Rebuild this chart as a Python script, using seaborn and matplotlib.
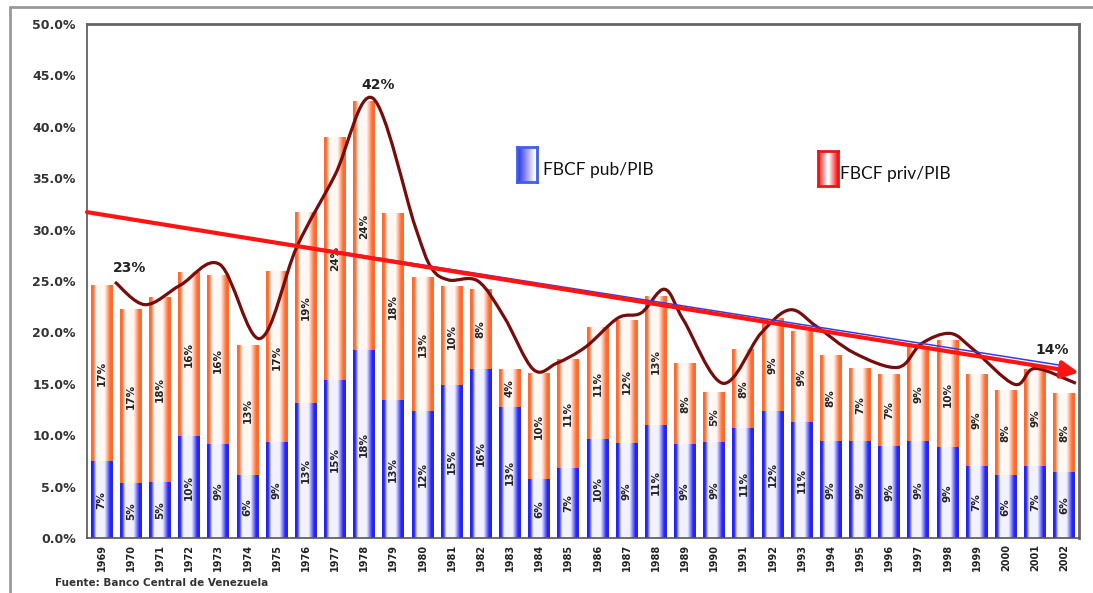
import numpy as np
import pandas as pd
import matplotlib
matplotlib.use("Agg")
import matplotlib.pyplot as plt
import seaborn as sns
from matplotlib.path import Path
from matplotlib.patches import PathPatch
from matplotlib.lines import Line2D
from matplotlib.colors import to_rgb

years = list(range(1969, 2003))
pub = [7.4, 5.3, 5.4, 9.9, 9.1, 6.1, 9.3, 13.1, 15.3, 18.2, 13.4, 12.3, 14.8, 16.4, 12.7, 5.7, 6.8,
       9.6, 9.2, 10.9, 9.1, 9.3, 10.7, 12.3, 11.2, 9.4, 9.4, 8.9, 9.4, 8.8, 7.0, 6.1, 7.0, 6.4]
priv = [17.2, 16.9, 18.0, 15.9, 16.4, 12.6, 16.6, 18.6, 23.7, 24.3, 18.2, 13.0, 9.7, 7.8, 3.7, 10.3, 10.6,
        10.9, 12.0, 12.6, 7.9, 4.9, 7.6, 9.1, 8.9, 8.4, 7.1, 7.0, 9.2, 10.4, 8.9, 8.2, 9.4, 7.7]

# smoothed total curve (knots, in fractional years)
curve_year = [1969.46, 1970.49, 1971.7, 1973.06, 1974.43, 1975.69, 1977.0, 1978.29, 1979.75, 1980.3,
              1980.9, 1981.9, 1982.8, 1983.8, 1984.6, 1985.6, 1986.7, 1987.5, 1988.3, 1988.95,
              1990.3, 1991.6, 1992.6, 1993.5, 1994.8, 1996.3, 1997.1, 1998.1, 1998.9, 2000.3, 2001.0,
              2002.4]
curve_val = [24.9, 22.7, 24.6, 26.6, 19.4, 28.3, 35.3, 42.8, 30.3, 26.3,
             25.1, 25.0, 21.5, 16.4, 17.0, 18.6, 21.4, 21.9, 24.2, 21.2,
             15.05, 19.9, 22.2, 20.6, 18.0, 16.6, 18.9, 19.9, 18.3, 14.95, 16.5,
             15.05]

trend_year = [1968.5, 2002.5]
trend_red = [31.7, 16.1]
trend_blue_year = [1968.5, 2002.0]
trend_blue = [31.7, 16.75]

callouts = [("23%", 1969.97, 26.3), ("42%", 1978.48, 44.1), ("14%", 2001.6, 18.3)]

df = pd.DataFrame({"year": [str(y) for y in years], "pub": pub, "priv": priv})
df["total"] = df["pub"] + df["priv"]

BLUE = "#2424F5"
ORANGE = "#FF6A2E"

sns.set_style("white")
plt.rcParams["font.family"] = ["DejaVu Sans"]

fig = plt.figure(figsize=(10.93, 5.93), dpi=100)
ax = fig.add_axes([0.0796, 0.0927, 0.9074, 0.8668])

sns.barplot(data=df, x="year", y="total", color=ORANGE, width=0.75, saturation=1, ax=ax)
sns.barplot(data=df, x="year", y="pub", color=BLUE, width=0.75, saturation=1, ax=ax)


def gradient(color, light):
    t = np.linspace(0, 1, 100)
    s = np.where(t < 0.5, np.clip((0.24 - t) / 0.14, 0, 1), np.clip((t - 0.62) / 0.26, 0, 1))
    c = np.array(to_rgb(color))
    w = np.array(to_rgb(light))
    img = w[None, :] * (1 - s[:, None]) + c[None, :] * s[:, None]
    return img[None, :, :]


n = len(years)
fills = [(ORANGE, "#FFF8F4", 1)] * n + [(BLUE, "#F2F2FF", 2)] * n
for p, (col, light, z) in zip(ax.patches, fills):
    x0, w = p.get_x(), p.get_width()
    y0, h = p.get_y(), p.get_height()
    p.set_visible(False)
    ax.imshow(gradient(col, light), extent=(x0, x0 + w, y0, y0 + h), aspect="auto",
              interpolation="bilinear", zorder=z)

for i, (a, b) in enumerate(zip(pub, priv)):
    ax.text(i, a / 2, f"{a:.0f}%", rotation=90, ha="center", va="center",
            fontsize=7.5, fontweight="bold", color="#222222", zorder=4)
    ax.text(i, a + b / 2, f"{b:.0f}%", rotation=90, ha="center", va="center",
            fontsize=7.5, fontweight="bold", color="#222222", zorder=4)

# smooth curve via Catmull-Rom -> Bezier
pts = np.column_stack([np.array(curve_year) - years[0], curve_val])
verts, codes = [pts[0]], [Path.MOVETO]
for i in range(len(pts) - 1):
    p0 = pts[i - 1] if i > 0 else pts[i]
    p3 = pts[i + 2] if i + 2 < len(pts) else pts[i + 1]
    verts += [pts[i] + (pts[i + 1] - p0) / 6, pts[i + 1] - (p3 - pts[i]) / 6, pts[i + 1]]
    codes += [Path.CURVE4] * 3
ax.add_patch(PathPatch(Path(verts, codes), fill=False, ec="#760C0C", lw=2.3, zorder=6))

# trend lines
tx = np.array(trend_year) - years[0]
ax.annotate("", xy=(tx[1], trend_red[1]), xytext=(tx[0], trend_red[0]),
            arrowprops=dict(arrowstyle="-|>", color="#FF1414", lw=3, mutation_scale=26,
                            shrinkA=0, shrinkB=0), zorder=7, annotation_clip=False)
ax.plot(np.array(trend_blue_year) - years[0], trend_blue, color="#3A3AE0", lw=1.1, zorder=6.5)

for txt, yr, v in callouts:
    ax.text(yr - years[0], v, txt, ha="center", va="center", fontsize=10,
            fontweight="bold", color="#222222", zorder=9)

ax.set_xlim(-0.5, n - 0.5)
ax.set_ylim(0, 50)
ax.set_yticks(np.arange(0, 50.1, 5))
ax.set_yticklabels([f"{v:.1f}%" for v in np.arange(0, 50.1, 5)], fontsize=9,
                   fontweight="bold", color="#333333")
ax.set_xticks(np.arange(-0.5, n, 1))
ax.set_xticklabels([])
ax.set_xticks(np.arange(n), minor=True)
ax.set_xticklabels(df["year"], minor=True, rotation=90, fontsize=7, fontweight="bold",
                   color="#222222")
ax.tick_params(axis="x", which="minor", length=0, pad=4)
ax.tick_params(axis="x", which="major", length=4, width=1, color="#444444", direction="out")
ax.tick_params(axis="y", length=5, width=1, color="#444444", direction="out", pad=3)
ax.set_xlabel("")
ax.set_ylabel("")
for side in ["left", "bottom"]:
    ax.spines[side].set_color("#555555")
    ax.spines[side].set_linewidth(1.2)
for side in ["top", "right"]:
    ax.spines[side].set_color("#666666")
    ax.spines[side].set_linewidth(2)

# legend swatches
W, H = 1093, 593
legend = [("FBCF pub/PIB", 517, 147, BLUE, "#3F5FE8", 543),
          ("FBCF priv/PIB", 818, 151, "#FF2020", "#E81818", 840)]
for label, px, py, col, edge, tx_ in legend:
    lax = fig.add_axes([px / W, 1 - (py + 35) / H, 20 / W, 35 / H])
    t = np.linspace(0, 1, 40)
    s = np.clip(1 - t * 1.1, 0, 1) if "pub" in label else np.clip(np.abs(2 * t - 1) * 1.2 - 0.1, 0, 1)
    c = np.array(to_rgb(col))
    img = (1 - s[:, None]) + c[None, :] * s[:, None]
    lax.imshow(img[None, :, :], aspect="auto", extent=(0, 1, 0, 1))
    lax.set_xticks([])
    lax.set_yticks([])
    for sp in lax.spines.values():
        sp.set_color(edge)
        sp.set_linewidth(2)
    fig.text(tx_ / W, 1 - (py + 23) / H, label, fontsize=12.5, family="Lato",
             color="#111111", va="center", ha="left")

fig.text(55 / W, 1 - 583 / H, "Fuente: Banco Central de Venezuela", fontsize=7.5,
         fontweight="bold", color="#333333", va="center")

fig.add_artist(Line2D([10 / W, 1], [1 - 7 / H, 1 - 7 / H], color="#999999", lw=2))
fig.add_artist(Line2D([10 / W, 10 / W], [0, 1 - 7 / H], color="#999999", lw=2))

fig.savefig("out.png", dpi=100)
